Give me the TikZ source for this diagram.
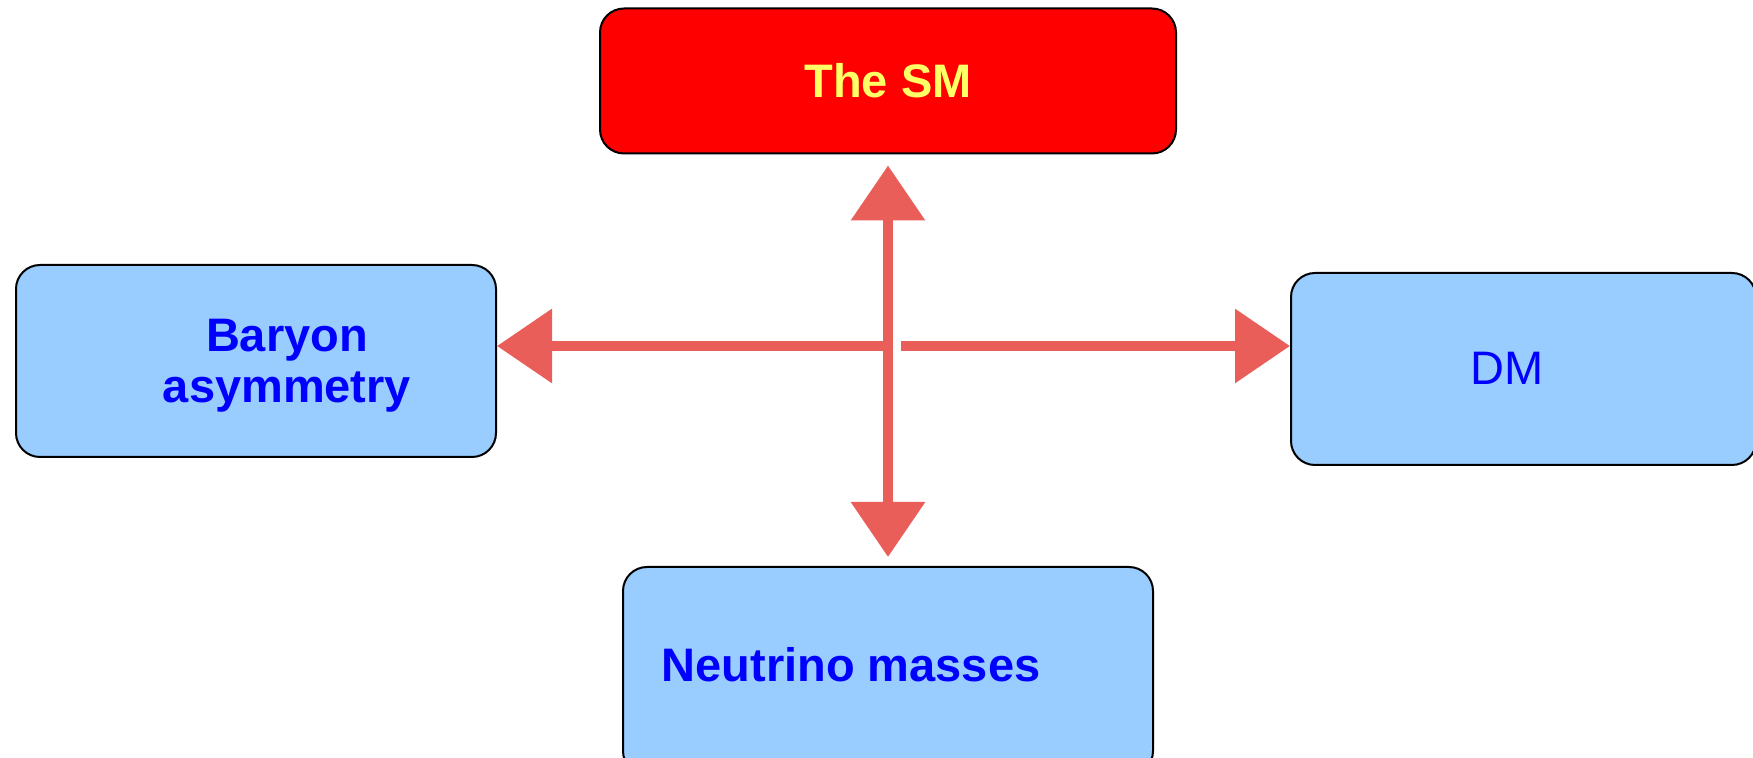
\documentclass[tikz,border=0pt]{standalone}
\usepackage{fontspec}
\setmainfont{Liberation Sans}
\usepackage{tikz}
\usetikzlibrary{arrows.meta,calc,positioning}
\definecolor{smred}{RGB}{255,0,0}
\definecolor{smyellow}{RGB}{255,255,102}
\definecolor{boxblue}{RGB}{153,204,255}
\definecolor{txtblue}{RGB}{0,0,255}
\definecolor{crayon}{RGB}{234,94,90}
\tikzstyle{diagram}=[
  x=0.5pt,y=-0.5pt,font=\fontsize{23.5}{25.5}\selectfont
]
\tikzstyle{smbox}=[
  draw,line width=1pt,rounded corners=12pt,fill=smred,text=smyellow,
  font=\fontsize{23.5}{25.5}\selectfont\bfseries
]
\tikzstyle{bluebox}=[
  draw,line width=1pt,rounded corners=12pt,fill=boxblue
]
\tikzstyle{bluetext}=[
  text=txtblue,align=center,inner sep=0pt
]
\tikzstyle{crayonarrow}=[
  draw=crayon,line width=5pt,-{Triangle[length=27.5pt,width=36pt]}
]
\tikzstyle{crayonboth}=[
  draw=crayon,line width=5pt,{Triangle[length=27.5pt,width=36pt]}-{Triangle[length=27.5pt,width=36pt]}
]

\begin{document}
\begin{tikzpicture}[diagram]
      \useasboundingbox (0,0) rectangle (1753,758);
      \node (sm) at (888,81) [smbox,minimum width=288pt,minimum height=72.5pt] {The SM};
      \node (baryon) at (256,361) [bluebox,minimum width=240pt,minimum height=96pt] {};
      \node (dm) at (1523.5,369) [bluebox,minimum width=232.5pt,minimum height=96pt] {};
      \node (nu) at (888,671) [bluebox,minimum width=265pt,minimum height=104pt] {};
      \node (baryontext) at ($(baryon) + (31,5)$) [bluetext,font=\fontsize{23.5}{25.5}\selectfont\bfseries] {Baryon\\asymmetry};
      \node (dmtext) at ($(dm) + (-16.5,-1)$) [bluetext] {DM};
      \node (nutext) at ($(nu) + (-37,-6)$) [bluetext,font=\fontsize{23.5}{25.5}\selectfont\bfseries] {Neutrino masses};
      \coordinate (hub) at (888,346);
      \draw [crayonboth] ($(sm.south) + (0,11)$) -- ($(nu.north) + (0,-9)$);
      \draw [crayonarrow] ($(hub) + (5,0)$) -- (hub -| baryon.east);
      \draw [crayonarrow] ($(hub) + (13,0)$) -- (hub -| dm.west);
    \end{tikzpicture}
\end{document}
